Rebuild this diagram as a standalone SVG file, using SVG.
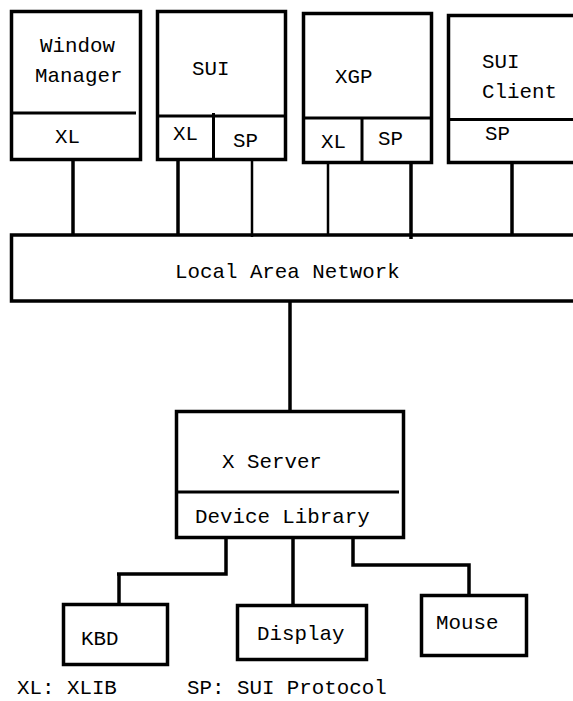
<svg xmlns="http://www.w3.org/2000/svg" width="573" height="701" viewBox="0 0 573 701">
<style>
.b{fill:none;stroke:#000;stroke-width:3.5}
.d{fill:none;stroke:#000;stroke-width:3}
.c{fill:none;stroke:#000;stroke-width:3.5}
.t{stroke:#000;stroke-width:2.5}
text{font-family:"Liberation Mono","DejaVu Sans Mono",monospace;font-size:20.8px;fill:#000}
</style>
<rect width="573" height="701" fill="#fff"/>
<g id="connectors">
<line class="c" x1="73" y1="160" x2="73" y2="235"/>
<line class="c" x1="178" y1="158" x2="178" y2="235"/>
<line class="t" x1="252" y1="160" x2="252" y2="237"/>
<line class="t" x1="328" y1="162" x2="328" y2="235"/>
<line class="c" x1="411" y1="162" x2="411" y2="239"/>
<line class="c" x1="512" y1="163" x2="512" y2="236"/>
<line class="c" x1="290" y1="300" x2="290" y2="412"/>
<polyline class="c" points="226,538 226,574 117,574"/>
<line class="c" x1="119" y1="574" x2="119" y2="605"/>
<line class="c" x1="293" y1="538" x2="293" y2="606"/>
<polyline class="c" points="353,538 353,565 469,565 469,597"/>
</g>
<g id="window-manager">
<rect class="b" x="11.5" y="11.5" width="129" height="148"/>
<line class="d" x1="11" y1="113" x2="136" y2="113"/>
<text x="40" y="52">Window</text>
<text x="35" y="82">Manager</text>
<text x="55" y="143">XL</text>
</g>
<g id="sui">
<rect class="b" x="157.5" y="11.5" width="128" height="148"/>
<line class="d" x1="157" y1="116" x2="286" y2="116"/>
<line class="d" x1="213.5" y1="113" x2="213.5" y2="160"/>
<text x="192" y="75">SUI</text>
<text x="173" y="140">XL</text>
<text x="233" y="147">SP</text>
</g>
<g id="xgp">
<rect class="b" x="303.5" y="13.5" width="128" height="149"/>
<line class="d" x1="303" y1="118" x2="432" y2="118"/>
<line class="d" x1="362" y1="118" x2="362" y2="162"/>
<text x="335" y="83">XGP</text>
<text x="321" y="148">XL</text>
<text x="378" y="145">SP</text>
</g>
<g id="sui-client">
<rect class="b" x="448.5" y="15.5" width="140" height="147"/>
<line class="d" x1="448" y1="119.5" x2="580" y2="119.5"/>
<text x="482" y="68">SUI</text>
<text x="482" y="98">Client</text>
<text x="485" y="140">SP</text>
</g>
<g id="lan">
<rect class="b" x="11.5" y="235" width="600" height="66"/>
<text x="175" y="278">Local Area Network</text>
</g>
<g id="x-server">
<rect class="b" x="176.5" y="411.5" width="227" height="126"/>
<line class="d" x1="176" y1="492" x2="399" y2="492"/>
<text x="222" y="468">X Server</text>
<text x="195" y="523">Device Library</text>
</g>
<g id="kbd">
<rect class="b" x="63.5" y="604.5" width="104" height="60"/>
<text x="81" y="645">KBD</text>
</g>
<g id="display">
<rect class="b" x="237.5" y="605.5" width="129" height="54"/>
<text x="257" y="640">Display</text>
</g>
<g id="mouse">
<rect class="b" x="421.5" y="595.5" width="105" height="60"/>
<text x="436" y="629">Mouse</text>
</g>
<g id="legend">
<text x="17" y="694">XL: XLIB</text>
<text x="187" y="694">SP: SUI Protocol</text>
</g>
</svg>
